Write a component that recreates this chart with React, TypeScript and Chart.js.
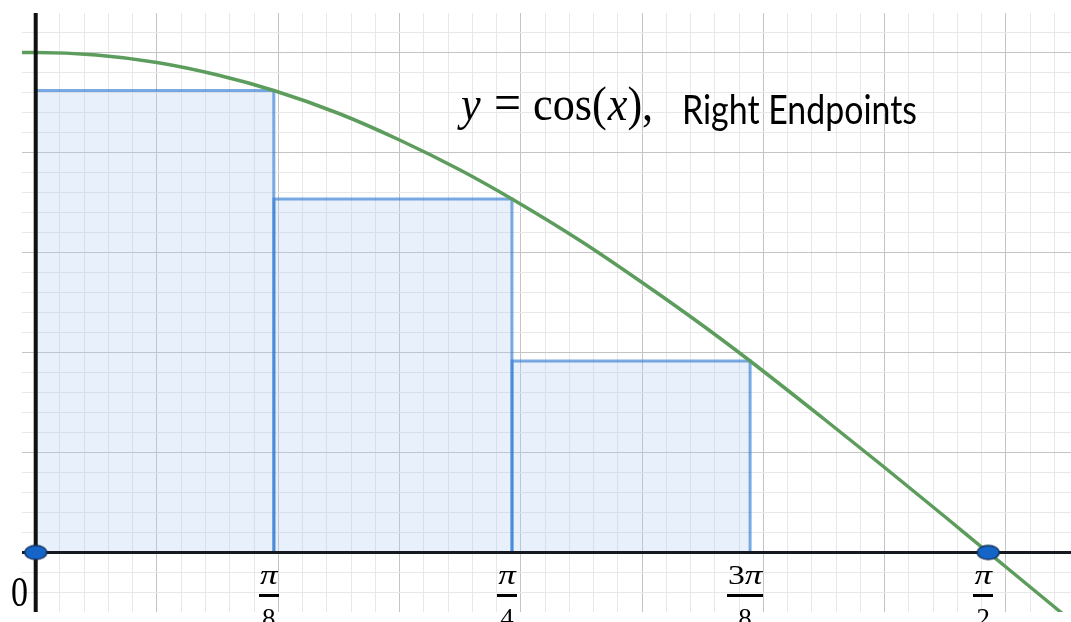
import React, { useEffect, useRef } from 'react';
import { Chart, registerables } from 'chart.js';

Chart.register(...registerables);

// ---- axis ranges / grid steps ----
const X_MIN = -0.0226;
const X_MAX = 1.7073;
const Y_MIN = -0.119;
const Y_MAX = 1.079;
const GRID_MINOR = 0.04;
const GRID_MAJOR = 0.2;

// ---- curve y = cos(x) ----
const curveX = [-0.03, 0, 0.1, 0.2, 0.3, 0.3927, 0.5, 0.6, 0.7, 0.7854, 0.9, 1.0, 1.1, 1.1781, 1.3, 1.4, 1.5, 1.5708, 1.6, 1.72];
const curveY = [1.0, 1.0, 0.995, 0.98, 0.955, 0.924, 0.878, 0.825, 0.765, 0.707, 0.622, 0.54, 0.454, 0.383, 0.267, 0.17, 0.071, 0, -0.029, -0.149];

// ---- right-endpoint rectangles ----
const rectLeft = [0, 0.3927, 0.7854];
const rectRight = [0.3927, 0.7854, 1.1781];
const rectHeight = [0.924, 0.707, 0.383];

// ---- marked points ----
const markerX = [0, 1.5708];
const markerY = [0, 0];

// ---- tick labels ----
const tickValues = [0.3927, 0.7854, 1.1781, 1.5708];
const tickNumerators = ['π', 'π', '3π', 'π'];
const tickDenominators = ['8', '4', '8', '2'];
const originLabel = '0';

// ---- title ----
const titleVar = 'y';
const titleFunc = 'cos';
const titleArg = 'x';
const titleText = 'Right Endpoints';

function makeEllipse(): HTMLCanvasElement {
  const c = document.createElement('canvas');
  c.width = 26;
  c.height = 18;
  const g = c.getContext('2d')!;
  g.beginPath();
  g.ellipse(13, 9, 11, 7, 0, 0, Math.PI * 2);
  g.fillStyle = '#1565c8';
  g.fill();
  g.lineWidth = 1.3;
  g.strokeStyle = '#12305a';
  g.stroke();
  return c;
}

function gridTicks(min: number, max: number) {
  const out: { value: number }[] = [];
  const k0 = Math.ceil(min / GRID_MINOR - 1e-9);
  const k1 = Math.floor(max / GRID_MINOR + 1e-9);
  for (let k = k0; k <= k1; k++) out.push({ value: +(k * GRID_MINOR).toFixed(6) });
  return out;
}

function gridColor(ctx: any) {
  const v = ctx.tick ? ctx.tick.value : 0;
  const r = Math.abs(v / GRID_MAJOR - Math.round(v / GRID_MAJOR));
  return r < 1e-6 ? '#c4c4c4' : '#e8e8e8';
}

function drawScaled(ctx: CanvasRenderingContext2D, text: string, x: number, y: number, font: string, sx: number) {
  ctx.save();
  ctx.font = font;
  ctx.translate(x, y);
  ctx.scale(sx, 1);
  ctx.fillText(text, 0, 0);
  const w = ctx.measureText(text).width * sx;
  ctx.restore();
  return w;
}

const labelPlugin = {
  id: 'labels',
  afterDraw(chart: any) {
    const ctx: CanvasRenderingContext2D = chart.ctx;
    const xs = chart.scales.x;
    ctx.save();
    ctx.fillStyle = '#000';
    ctx.textAlign = 'left';
    ctx.textBaseline = 'alphabetic';

    // title (math part)
    const mathFont = '48px "Liberation Serif"';
    const mathItal = 'italic 48px "Liberation Serif"';
    ctx.font = mathFont;
    const sx = 59 / ctx.measureText(titleFunc).width;
    drawScaled(ctx, titleVar, 461, 120, mathItal, sx);
    drawScaled(ctx, '=', 494, 120, '52px "Liberation Serif"', sx);
    let px = 533;
    px += drawScaled(ctx, titleFunc + '(', px, 120, mathFont, sx);
    px += drawScaled(ctx, titleArg, px + 1, 120, mathItal, sx) + 1;
    drawScaled(ctx, '),', px, 120, mathFont, sx);

    // title (text part)
    const tFont = '40px Lato';
    ctx.font = tFont;
    const tsx = 235 / ctx.measureText(titleText).width;
    drawScaled(ctx, titleText, 682, 124, tFont, tsx);

    // origin label
    const oFont = '42px "Liberation Serif"';
    ctx.font = oFont;
    const osx = 17 / ctx.measureText(originLabel).width;
    drawScaled(ctx, originLabel, 11, 606, oFont, osx);

    // fraction tick labels
    const numUp = '27px "Liberation Serif"';
    const numIt = 'italic 28px "Liberation Serif"';
    tickValues.forEach((v, i) => {
      const cx = xs.getPixelForValue(v) - 5;
      const num = tickNumerators[i];
      let w = 0;
      for (const ch of num) {
        ctx.font = ch === 'π' ? numIt : numUp;
        w += ctx.measureText(ch).width * 1.25;
      }
      let x = cx - w / 2;
      for (const ch of num) {
        x += drawScaled(ctx, ch, x, 584, ch === 'π' ? numIt : numUp, 1.25);
      }
      ctx.fillRect(Math.round(cx - w / 2 - 1), 594, Math.round(w + 2), 3);
      ctx.font = numUp;
      const dw = ctx.measureText(tickDenominators[i]).width;
      ctx.fillText(tickDenominators[i], cx - dw / 2, 627);
    });
    ctx.restore();
  },
};

export default function App() {
  const ref = useRef<HTMLCanvasElement | null>(null);
  useEffect(() => {
    if (!ref.current) return;
    const rectSets = rectLeft.map((l, i) => ({
      type: 'line' as const,
      data: [
        { x: l, y: 0 },
        { x: l, y: rectHeight[i] },
        { x: rectRight[i], y: rectHeight[i] },
        { x: rectRight[i], y: 0 },
      ],
      borderColor: 'rgba(45,120,210,0.62)',
      backgroundColor: 'rgba(170,200,240,0.28)',
      borderWidth: 3,
      fill: 'origin',
      pointRadius: 0,
      tension: 0,
      order: 10,
    }));
    const chart = new Chart(ref.current, {
      type: 'line',
      data: {
        datasets: [
          ...rectSets,
          {
            data: curveX.map((x, i) => ({ x, y: curveY[i] })),
            borderColor: '#5c9c5c',
            borderWidth: 3.5,
            pointRadius: 0,
            cubicInterpolationMode: 'monotone',
            fill: false,
            order: 4,
          },
          {
            data: [{ x: X_MIN, y: 0 }, { x: X_MAX, y: 0 }],
            borderColor: '#161a20',
            borderWidth: 3,
            pointRadius: 0,
            fill: false,
            order: 2,
          },
          {
            data: [{ x: 0, y: Y_MIN }, { x: 0, y: Y_MAX }],
            borderColor: '#111111',
            borderWidth: 4,
            pointRadius: 0,
            fill: false,
            order: 2,
          },
          {
            data: markerX.map((x, i) => ({ x, y: markerY[i] })),
            showLine: false,
            pointStyle: makeEllipse(),
            pointRadius: 10,
            order: 0,
          },
        ] as any,
      },
      options: {
        animation: false,
        responsive: false,
        devicePixelRatio: 1,
        layout: { autoPadding: false, padding: { left: 22, top: 13, right: 0, bottom: 10 } },
        plugins: { legend: { display: false }, tooltip: { enabled: false } },
        scales: {
          x: {
            type: 'linear',
            min: X_MIN,
            max: X_MAX,
            afterBuildTicks: (s: any) => { s.ticks = gridTicks(X_MIN, X_MAX); },
            ticks: { display: false },
            grid: { color: gridColor, lineWidth: 1, drawTicks: false },
            border: { display: false },
          },
          y: {
            type: 'linear',
            min: Y_MIN,
            max: Y_MAX,
            afterBuildTicks: (s: any) => { s.ticks = gridTicks(Y_MIN, Y_MAX); },
            ticks: { display: false },
            grid: { color: gridColor, lineWidth: 1, drawTicks: false },
            border: { display: false },
          },
        },
      } as any,
      plugins: [labelPlugin],
    });
    return () => chart.destroy();
  }, []);
  return (
    <div style={{ position: 'fixed', left: 0, top: 0, width: 1071, height: 622, background: '#fff' }}>
      <canvas ref={ref} width={1071} height={622} style={{ display: 'block' }} />
    </div>
  );
}
